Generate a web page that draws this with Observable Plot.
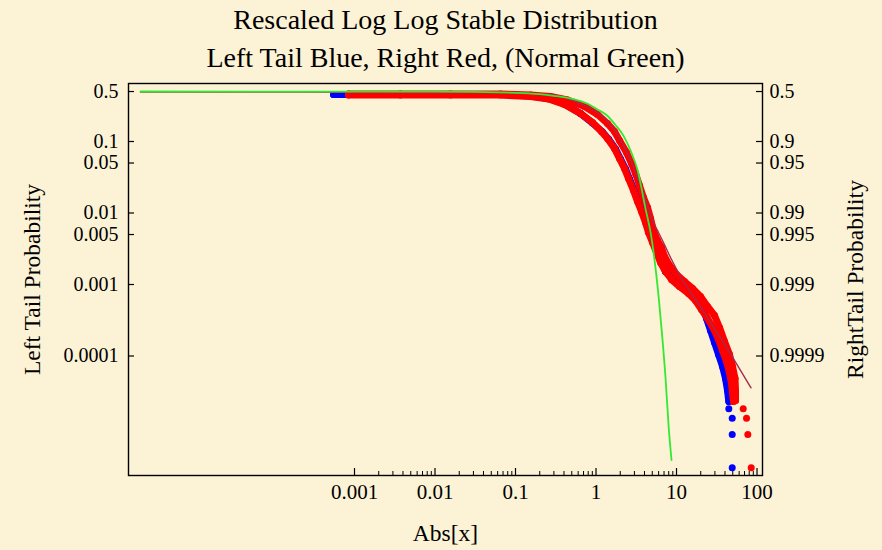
<!DOCTYPE html>
<html>
<head>
<meta charset="utf-8">
<script src="https://cdn.jsdelivr.net/npm/d3@7"></script>
<script src="https://cdn.jsdelivr.net/npm/@observablehq/plot@0.6"></script>
<style>
  html, body { margin: 0; padding: 0; background: #fcf2d5; }
  #chart { width: 882px; height: 550px; }
</style>
</head>
<body>
<div id="chart"></div>
<script>
// ---- axis ticks and labels ----
const leftTicks = [0.5, 0.1, 0.05, 0.01, 0.005, 0.001, 0.0001];
const leftLabels = ["0.5", "0.1", "0.05", "0.01", "0.005", "0.001", "0.0001"];
const rightLabels = ["0.5", "0.9", "0.95", "0.99", "0.995", "0.999", "0.9999"];
const xTicks = [0.001, 0.01, 0.1, 1, 10, 100];
const xLabels = ["0.001", "0.01", "0.1", "1", "10", "100"];
const titleLines = ["Rescaled Log Log Stable Distribution", "Left Tail Blue, Right Red, (Normal Green)"];

// ---- right tail (red), two overlapping rescaled series ----
const redA = [
  [8.42e-4, 0.4616], [3.727e-3, 0.4616], [1.557e-2, 0.4616], [6.51e-2, 0.4616], [0.1536, 0.447],
  [0.2721, 0.4259], [0.4426, 0.3806], [0.7197, 0.3087], [1.044, 0.2385], [1.389, 0.1785],
  [1.697, 0.138], [1.958, 0.1033], [2.392, 0.07018], [2.761, 0.04923], [3.095, 0.03568],
  [3.47, 0.02424], [3.891, 0.01647], [4.363, 0.01194], [4.754, 0.008377], [5.18, 0.00569],
  [5.808, 0.004124], [6.512, 0.003293], [7.095, 0.002463], [8.185, 0.001844], [10.0, 0.00138],
  [12.57, 0.001101], [15.8, 8.791e-4], [19.87, 6.796e-4], [24.27, 4.923e-4], [29.65, 3.684e-4],
  [34.21, 2.503e-4], [39.48, 1.595e-4], [45.54, 1.05e-4], [49.63, 7.128e-5], [53.3, 4.844e-5],
  [54.07, 3.293e-5], [54.07, 2.385e-5]
];
const redB = [
  [8.42e-4, 0.447], [3.727e-3, 0.447], [1.557e-2, 0.447], [6.51e-2, 0.447], [0.1536, 0.4259],
  [0.257, 0.3929], [0.4062, 0.3293], [0.642, 0.2464], [0.9048, 0.1844], [1.17, 0.138],
  [1.389, 0.1101], [1.697, 0.07982], [1.958, 0.05784], [2.259, 0.04193], [2.533, 0.03039],
  [2.923, 0.02064], [3.278, 0.01448], [3.675, 0.01049], [4.121, 0.007365], [4.489, 0.005337],
  [5.034, 0.003867], [5.644, 0.002803], [6.329, 0.00203], [7.302, 0.00152], [8.668, 0.001175],
  [10.9, 9.376e-4], [14.1, 7.483e-4], [17.22, 5.973e-4], [20.44, 4.47e-4], [24.27, 3.345e-4],
  [28.82, 2.424e-4], [33.25, 1.701e-4], [37.28, 1.194e-4], [41.8, 8.377e-5], [45.54, 5.877e-5],
  [48.23, 4.124e-5], [49.63, 2.988e-5], [51.07, 2.31e-5]
];
const redTail = [[67.41, 1.826e-5], [74.08, 1.349e-5], [76.88, 7.98e-6], [84.72, 2.73e-6]];

// ---- left tail (blue) ----
const blue = [
  [5.483e-4, 0.4543], [6.237e-4, 0.4543], [7.096e-4, 0.4543], [8.42e-4, 0.4543], [3.727e-3, 0.4543],
  [1.557e-2, 0.4543], [6.51e-2, 0.4543], [0.1536, 0.4328], [0.257, 0.3993], [0.4062, 0.3346],
  [0.642, 0.2464], [0.9048, 0.1815], [1.187, 0.138], [1.43, 0.1084], [1.747, 0.07852],
  [2.015, 0.0569], [2.326, 0.04124], [2.607, 0.02989], [3.008, 0.02031], [3.373, 0.01425],
  [3.782, 0.01033], [4.24, 0.007246], [4.619, 0.005252], [5.18, 0.003805], [5.808, 0.002758],
  [6.512, 0.00203], [7.302, 0.00152], [9.178, 0.001175], [11.87, 9.683e-4], [14.93, 8.242e-4],
  [18.24, 6.579e-4], [21.04, 4.923e-4], [23.59, 3.345e-4], [26.45, 2.273e-4], [29.65, 1.544e-4],
  [33.25, 1.05e-4], [37.28, 7.128e-5], [40.62, 4.844e-5], [43.01, 3.293e-5], [44.64, 2.31e-5]
];
const blueTail = [[44.64, 1.826e-5], [49.2, 1.349e-5], [49.2, 7.98e-6], [49.2, 2.73e-6]];

// ---- fitted stable curve (dark red line) ----
const stable = [
  [2.196e-6, 0.4923], [6.51e-2, 0.4845], [0.2721, 0.4543], [0.4426, 0.3993], [0.7197, 0.3188],
  [1.074, 0.2464], [1.471, 0.1785], [1.85, 0.1253], [2.259, 0.08242], [2.761, 0.05084],
  [3.278, 0.03136], [3.891, 0.01874], [4.489, 0.01156], [5.18, 0.007365], [5.976, 0.005337],
  [6.701, 0.004124], [8.422, 0.002385], [11.21, 0.001294], [18.24, 5.601e-4], [29.65, 2.424e-4],
  [48.23, 1.016e-4], [84.24, 3.591e-5]
];

// ---- normal curve (green) ----
const normal = [
  [2.2e-6, 0.5], [0.01, 0.498], [0.1, 0.48], [0.2, 0.46], [0.3, 0.436], [0.443, 0.408],
  [0.642, 0.366], [0.8, 0.334], [1.044, 0.28], [1.35, 0.235], [1.747, 0.17], [2.2, 0.12],
  [2.68, 0.075], [3.3, 0.039], [4.12, 0.0115], [4.8, 0.0051], [5.49, 0.0017], [6.1, 0.00055],
  [6.64, 0.00019], [7.3, 5.0e-5], [8.0, 1.0e-5], [8.67, 3.5e-6]
];

// minor ticks on the bottom axis (2..9 within each labelled decade)
const minorTicks = [];
for (const d of xTicks.slice(0, -1)) for (let k = 2; k <= 9; k++) minorTicks.push(+(d * k).toPrecision(3));

const W = 882, H = 550, mL = 128, mR = 120, mT = 83, mB = 75;
const fw = W - mL - mR, fh = H - mT - mB;
const serif = "'Liberation Serif', 'Times New Roman', serif";
const px = d => d[0], py = d => d[1];

const chart = Plot.plot({
  width: W, height: H,
  marginLeft: mL, marginRight: mR, marginTop: mT, marginBottom: mB,
  style: { background: "#fcf2d5", color: "#000", fontFamily: serif, fontSize: "20px", overflow: "visible" },
  x: { type: "log", domain: [1.558e-6, 117], axis: null },
  y: { type: "log", domain: [2.132e-6, 0.6474], axis: null },
  marks: [
    // blue (left tail)
    Plot.line(blue, { x: px, y: py, stroke: "#0000ff", strokeWidth: 7, strokeLinecap: "round", strokeLinejoin: "round" }),
    Plot.dot(blue, { x: px, y: py, r: 3.5, fill: "#0000ff" }),
    Plot.dot(blueTail, { x: px, y: py, r: 3.5, fill: "#0000ff" }),
    // red (right tail)
    Plot.line(redB, { x: px, y: py, stroke: "#ff0000", strokeWidth: 7, strokeLinecap: "round", strokeLinejoin: "round" }),
    Plot.line(redA, { x: px, y: py, stroke: "#ff0000", strokeWidth: 7, strokeLinecap: "round", strokeLinejoin: "round" }),
    Plot.dot(redB, { x: px, y: py, r: 3.5, fill: "#ff0000" }),
    Plot.dot(redA, { x: px, y: py, r: 3.5, fill: "#ff0000" }),
    Plot.dot(redTail, { x: px, y: py, r: 3.5, fill: "#ff0000" }),
    // stable fit
    Plot.line(stable, { x: px, y: py, stroke: "#a8284e", strokeWidth: 1.4, curve: "monotone-x" }),
    // normal
    Plot.line(normal, { x: px, y: py, stroke: "#33e833", strokeWidth: 1.8, curve: "monotone-x" }),
    // frame & ticks
    Plot.frame({ stroke: "#000", strokeWidth: 1.4 }),
    Plot.tickY(leftTicks, { y: d => d, insetRight: fw - 6, stroke: "#000", strokeWidth: 1.2 }),
    Plot.tickY(leftTicks, { y: d => d, insetLeft: fw - 6, stroke: "#000", strokeWidth: 1.2 }),
    Plot.tickX(xTicks, { x: d => d, insetTop: fh - 7, stroke: "#000", strokeWidth: 1.2 }),
    Plot.tickX(minorTicks, { x: d => d, insetTop: fh - 4, stroke: "#000", strokeWidth: 1 }),
    // tick labels
    Plot.text(leftTicks, { y: d => d, text: (d, i) => leftLabels[i], frameAnchor: "left", dx: -10,
      textAnchor: "end", lineAnchor: "middle", fontSize: 20, fill: "#000" }),
    Plot.text(leftTicks, { y: d => d, text: (d, i) => rightLabels[i], frameAnchor: "right", dx: 7,
      textAnchor: "start", lineAnchor: "middle", fontSize: 20, fill: "#000" }),
    Plot.text(xTicks, { x: d => d, text: (d, i) => xLabels[i], frameAnchor: "bottom", dy: 17,
      textAnchor: "middle", lineAnchor: "middle", fontSize: 21, fill: "#000" }),
    // axis labels
    Plot.text(["Left Tail Probability"], { text: d => d, frameAnchor: "left", dx: -96, rotate: -90,
      textAnchor: "middle", lineAnchor: "middle", fontSize: 23.5, fill: "#000" }),
    Plot.text(["RightTail Probability"], { text: d => d, frameAnchor: "right", dx: 93, rotate: -90,
      textAnchor: "middle", lineAnchor: "middle", fontSize: 23.5, fill: "#000" }),
    Plot.text(["Abs[x]"], { text: d => d, frameAnchor: "bottom", dy: 58,
      textAnchor: "middle", lineAnchor: "middle", fontSize: 23.5, fill: "#000" }),
    // title
    Plot.text([titleLines[0]], { text: d => d, frameAnchor: "top", dy: -63, textAnchor: "middle", lineAnchor: "middle", fontSize: 28, fill: "#000" }),
    Plot.text([titleLines[1]], { text: d => d, frameAnchor: "top", dy: -25, textAnchor: "middle", lineAnchor: "middle", fontSize: 28, fill: "#000" })
  ]
});
document.getElementById("chart").appendChild(chart);
</script>
</body>
</html>
